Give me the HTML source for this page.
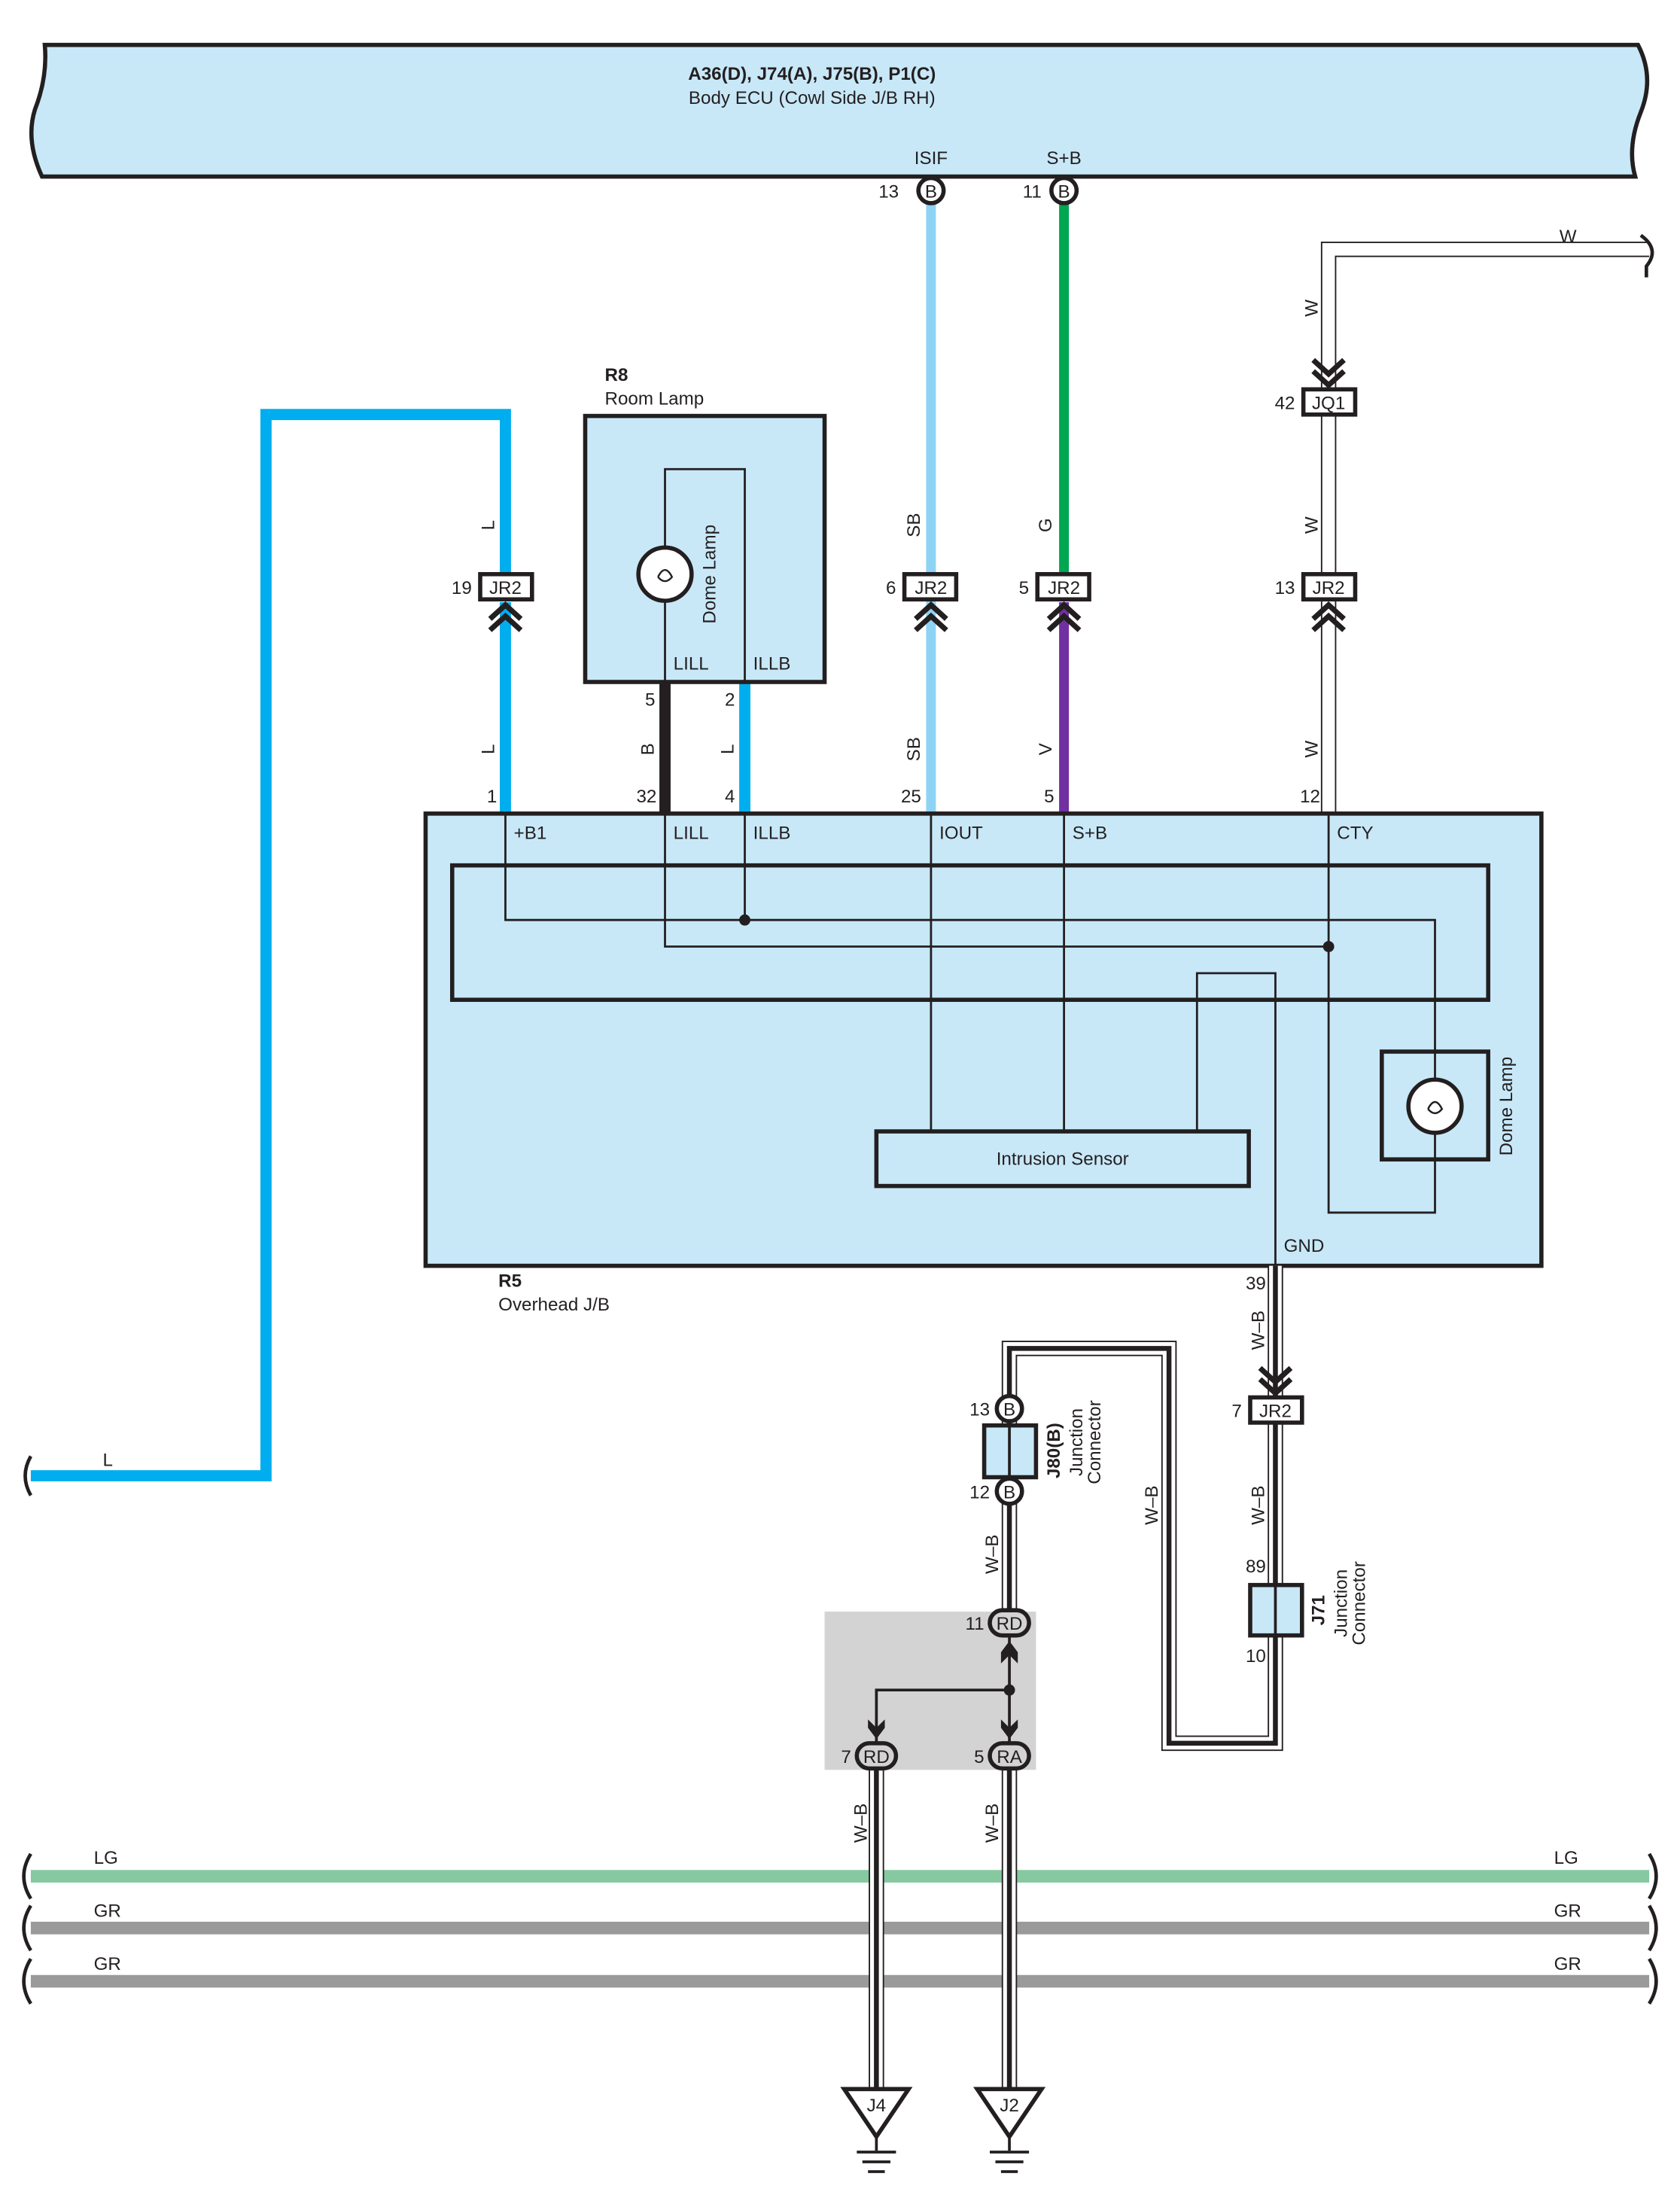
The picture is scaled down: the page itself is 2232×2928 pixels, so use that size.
<!DOCTYPE html>
<html><head><meta charset="utf-8"><style>
html,body{margin:0;padding:0;background:#fff}
svg{display:block}
text{font-family:"Liberation Sans",sans-serif;font-size:13px;fill:#231f20}
</style></head><body>
<svg width="2232" height="2928" viewBox="0 0 1200 1574" xmlns="http://www.w3.org/2000/svg">
<defs>
<g id="chevU"><path d="M-11,11 L0,1 L11,11 M-11,19 L0,9 L11,19" fill="none" stroke="#231f20" stroke-width="3.8"/></g>
<g id="chevD"><path d="M-11,-11 L0,-1 L11,-11 M-11,-19 L0,-9 L11,-19" fill="none" stroke="#231f20" stroke-width="3.8"/></g>
</defs>
<!-- ECU banner -->
<path d="M32,32 L1170,32 Q1182,55 1172,80 Q1162,105 1168,126 L30,126 Q18,100 25,78 Q34,55 32,32 Z" fill="#c8e8f8" stroke="#231f20" stroke-width="3"/>
<text x="580" y="57" text-anchor="middle" font-weight="bold">A36(D), J74(A), J75(B), P1(C)</text>
<text x="580" y="74" text-anchor="middle">Body ECU (Cowl Side J/B RH)</text>
<text x="665" y="117" text-anchor="middle">ISIF</text>
<text x="760" y="117" text-anchor="middle">S+B</text>
<text x="642" y="141" text-anchor="end">13</text>
<text x="744" y="141" text-anchor="end">11</text>

<!-- W wire -->
<path d="M1178,178 L949,178 L949,581" fill="none" stroke="#231f20" stroke-width="11"/>
<path d="M1178,178 L949,178 L949,581" fill="none" stroke="#fff" stroke-width="9"/>
<path d="M1172,168 Q1186,178 1176,190 L1176,198" fill="none" stroke="#231f20" stroke-width="2.5"/>
<text x="1120" y="173" text-anchor="middle">W</text>

<!-- colored wires -->
<path d="M22,1054 L190,1054 L190,296 L361,296 L361,412" fill="none" stroke="#00aeef" stroke-width="8"/>
<path d="M361,430 L361,581" fill="none" stroke="#00aeef" stroke-width="8"/>
<line x1="665" y1="145" x2="665" y2="581" stroke="#8fd3f4" stroke-width="7"/>
<line x1="760" y1="145" x2="760" y2="412" stroke="#00a651" stroke-width="7"/>
<line x1="760" y1="430" x2="760" y2="581" stroke="#7030a0" stroke-width="7"/>
<line x1="475" y1="487" x2="475" y2="581" stroke="#231f20" stroke-width="8"/>
<line x1="532" y1="487" x2="532" y2="581" stroke="#00aeef" stroke-width="8"/>
<path d="M22,1040 Q14,1054 22,1068" fill="none" stroke="#231f20" stroke-width="2.5"/>
<text x="77" y="1047" text-anchor="middle">L</text>

<!-- ECU pins -->
<circle cx="665" cy="136" r="9" fill="#fff" stroke="#231f20" stroke-width="3"/><text x="665" y="141" text-anchor="middle">B</text>
<circle cx="760" cy="136" r="9" fill="#fff" stroke="#231f20" stroke-width="3"/><text x="760" y="141" text-anchor="middle">B</text>

<!-- JQ1 -->
<use href="#chevD" x="949" y="276"/>
<rect x="931" y="278" width="37" height="18" fill="#fff" stroke="#231f20" stroke-width="3"/>
<text x="949" y="292" text-anchor="middle">JQ1</text><text x="925" y="292" text-anchor="end">42</text>

<!-- JR2 row -->
<g>
<rect x="343" y="410" width="37" height="18" fill="#fff" stroke="#231f20" stroke-width="3"/><text x="361" y="424" text-anchor="middle">JR2</text><text x="337" y="424" text-anchor="end">19</text><use href="#chevU" x="361" y="431"/>
<rect x="646" y="410" width="37" height="18" fill="#fff" stroke="#231f20" stroke-width="3"/><text x="665" y="424" text-anchor="middle">JR2</text><text x="640" y="424" text-anchor="end">6</text><use href="#chevU" x="665" y="431"/>
<rect x="741" y="410" width="37" height="18" fill="#fff" stroke="#231f20" stroke-width="3"/><text x="760" y="424" text-anchor="middle">JR2</text><text x="735" y="424" text-anchor="end">5</text><use href="#chevU" x="760" y="431"/>
<rect x="931" y="410" width="37" height="18" fill="#fff" stroke="#231f20" stroke-width="3"/><text x="949" y="424" text-anchor="middle">JR2</text><text x="925" y="424" text-anchor="end">13</text><use href="#chevU" x="949" y="431"/>
</g>

<!-- wire labels rotated -->
<g>
<text transform="translate(353,375) rotate(-90)" text-anchor="middle">L</text>
<text transform="translate(353,535) rotate(-90)" text-anchor="middle">L</text>
<text transform="translate(467,535) rotate(-90)" text-anchor="middle">B</text>
<text transform="translate(524,535) rotate(-90)" text-anchor="middle">L</text>
<text transform="translate(657,375) rotate(-90)" text-anchor="middle">SB</text>
<text transform="translate(657,535) rotate(-90)" text-anchor="middle">SB</text>
<text transform="translate(751,375) rotate(-90)" text-anchor="middle">G</text>
<text transform="translate(751,535) rotate(-90)" text-anchor="middle">V</text>
<text transform="translate(941,220) rotate(-90)" text-anchor="middle">W</text>
<text transform="translate(941,375) rotate(-90)" text-anchor="middle">W</text>
<text transform="translate(941,535) rotate(-90)" text-anchor="middle">W</text>
</g>

<!-- R8 -->
<text x="432" y="272" font-weight="bold">R8</text>
<text x="432" y="289">Room Lamp</text>
<rect x="418" y="297" width="171" height="190" fill="#c8e8f8" stroke="#231f20" stroke-width="3"/>
<path d="M475,487 L475,335 L532,335 L532,487" fill="none" stroke="#231f20" stroke-width="1.5"/>
<circle cx="475" cy="410" r="19" fill="#fff" stroke="#231f20" stroke-width="3"/>
<path d="M470,412 Q475,402 480,412 Q475,418 470,412" fill="none" stroke="#231f20" stroke-width="1.3"/>
<text transform="translate(511,410) rotate(-90)" text-anchor="middle">Dome Lamp</text>
<text x="481" y="478">LILL</text><text x="538" y="478">ILLB</text>
<text x="468" y="504" text-anchor="end">5</text><text x="525" y="504" text-anchor="end">2</text>

<!-- R5 -->
<rect x="304" y="581" width="797" height="323" fill="#c8e8f8" stroke="#231f20" stroke-width="3"/>
<rect x="323" y="618" width="740" height="96" fill="none" stroke="#231f20" stroke-width="3"/>
<g fill="none" stroke="#231f20" stroke-width="1.5">
<path d="M361,581 L361,657 L1025,657 L1025,866 L949,866 L949,581"/>
<path d="M532,581 L532,657"/>
<path d="M475,581 L475,676 L949,676"/>
<path d="M665,581 L665,808 M760,581 L760,808"/>
<path d="M855,808 L855,695 L911,695 L911,904"/>
</g>
<circle cx="532" cy="657" r="4" fill="#231f20"/>
<circle cx="949" cy="676" r="4" fill="#231f20"/>
<rect x="626" y="808" width="266" height="39" fill="#c8e8f8" stroke="#231f20" stroke-width="3"/>
<text x="759" y="832" text-anchor="middle">Intrusion Sensor</text>
<rect x="987" y="751" width="76" height="77" fill="#c8e8f8" stroke="#231f20" stroke-width="3"/>
<line x1="1025" y1="751" x2="1025" y2="828" stroke="#231f20" stroke-width="1.5"/>
<circle cx="1025" cy="790" r="19" fill="#fff" stroke="#231f20" stroke-width="3"/>
<path d="M1020,792 Q1025,782 1030,792 Q1025,798 1020,792" fill="none" stroke="#231f20" stroke-width="1.3"/>
<text transform="translate(1080,790) rotate(-90)" text-anchor="middle">Dome Lamp</text>
<text x="367" y="599">+B1</text><text x="481" y="599">LILL</text><text x="538" y="599">ILLB</text>
<text x="671" y="599">IOUT</text><text x="766" y="599">S+B</text><text x="955" y="599">CTY</text>
<text x="917" y="894">GND</text>
<text x="355" y="573" text-anchor="end">1</text><text x="469" y="573" text-anchor="end">32</text>
<text x="525" y="573" text-anchor="end">4</text><text x="658" y="573" text-anchor="end">25</text>
<text x="753" y="573" text-anchor="end">5</text><text x="943" y="573" text-anchor="end">12</text>
<text x="356" y="919" font-weight="bold">R5</text>
<text x="356" y="936">Overhead J/B</text>

<!-- bottom harness wires -->
<line x1="22" y1="1340" x2="1178" y2="1340" stroke="#86c9a0" stroke-width="9"/>
<line x1="22" y1="1377" x2="1178" y2="1377" stroke="#9a9a9a" stroke-width="9"/>
<line x1="22" y1="1415" x2="1178" y2="1415" stroke="#9a9a9a" stroke-width="9"/>
<g fill="none" stroke="#231f20" stroke-width="2.5">
<path d="M22,1324 Q12,1340 22,1356"/><path d="M22,1361 Q12,1377 22,1393"/><path d="M22,1399 Q12,1415 22,1431"/>
<path d="M1178,1324 Q1188,1340 1178,1356"/><path d="M1178,1361 Q1188,1377 1178,1393"/><path d="M1178,1399 Q1188,1415 1178,1431"/>
</g>
<text x="67" y="1331">LG</text><text x="67" y="1369">GR</text><text x="67" y="1407">GR</text>
<text x="1110" y="1331">LG</text><text x="1110" y="1369">GR</text><text x="1110" y="1407">GR</text>

<!-- gray area -->
<rect x="589" y="1151" width="151" height="113" fill="#d3d3d3"/>

<!-- W-B wires -->
<g fill="none">
<path d="M911,904 L911,1245 L835,1245 L835,963 L721,963 L721,1159" stroke="#231f20" stroke-width="11"/>
<path d="M911,904 L911,1245 L835,1245 L835,963 L721,963 L721,1159" stroke="#fff" stroke-width="9"/>
<path d="M911,904 L911,1245 L835,1245 L835,963 L721,963 L721,1159" stroke="#231f20" stroke-width="3.5"/>
<path d="M626,1263 L626,1492 M721,1263 L721,1492" stroke="#231f20" stroke-width="11"/>
<path d="M626,1263 L626,1492 M721,1263 L721,1492" stroke="#fff" stroke-width="9"/>
<path d="M626,1263 L626,1492 M721,1263 L721,1492" stroke="#231f20" stroke-width="3.5"/>
</g>
<!-- gray area inner -->
<g fill="none" stroke="#231f20" stroke-width="2">
<path d="M721,1168 L721,1245 M721,1207 L626,1207 L626,1245"/>
</g>
<path d="M715,1188 L715,1180 L721,1172 L727,1180 L727,1188 L721,1182 Z" fill="#231f20"/>
<path d="M620,1228 L620,1234 L626,1242 L632,1234 L632,1228 L626,1234 Z" fill="#231f20"/>
<path d="M715,1228 L715,1234 L721,1242 L727,1234 L727,1228 L721,1234 Z" fill="#231f20"/>
<circle cx="721" cy="1207" r="4" fill="#231f20"/>
<rect x="707" y="1150" width="28" height="18" rx="9" fill="#d3d3d3" stroke="#231f20" stroke-width="3"/><text x="721" y="1164" text-anchor="middle">RD</text>
<rect x="612" y="1245" width="28" height="18" rx="9" fill="#d3d3d3" stroke="#231f20" stroke-width="3"/><text x="626" y="1259" text-anchor="middle">RD</text>
<rect x="707" y="1245" width="28" height="18" rx="9" fill="#d3d3d3" stroke="#231f20" stroke-width="3"/><text x="721" y="1259" text-anchor="middle">RA</text>
<text x="703" y="1164" text-anchor="end">11</text><text x="608" y="1259" text-anchor="end">7</text><text x="703" y="1259" text-anchor="end">5</text>

<!-- JR2 lower -->
<use href="#chevD" x="911" y="996"/>
<rect x="893" y="998" width="37" height="18" fill="#fff" stroke="#231f20" stroke-width="3"/>
<text x="911" y="1012" text-anchor="middle">JR2</text><text x="887" y="1012" text-anchor="end">7</text>
<text x="897" y="921" text-anchor="middle">39</text>
<!-- J71 -->
<rect x="893" y="1132" width="37" height="36" fill="#c8e8f8" stroke="#231f20" stroke-width="3"/>
<line x1="911" y1="1132" x2="911" y2="1168" stroke="#231f20" stroke-width="2"/>
<text x="897" y="1123" text-anchor="middle">89</text><text x="897" y="1187" text-anchor="middle">10</text>
<text transform="translate(946,1150) rotate(-90)" text-anchor="middle" font-weight="bold">J71</text>
<text transform="translate(962,1145) rotate(-90)" text-anchor="middle">Junction</text>
<text transform="translate(975,1145) rotate(-90)" text-anchor="middle">Connector</text>
<!-- J80 -->
<rect x="703" y="1018" width="37" height="37" fill="#c8e8f8" stroke="#231f20" stroke-width="3"/>
<line x1="721" y1="1018" x2="721" y2="1055" stroke="#231f20" stroke-width="2"/>
<circle cx="721" cy="1006" r="9" fill="#fff" stroke="#231f20" stroke-width="3"/><text x="721" y="1011" text-anchor="middle">B</text>
<circle cx="721" cy="1065" r="9" fill="#fff" stroke="#231f20" stroke-width="3"/><text x="721" y="1070" text-anchor="middle">B</text>
<text x="707" y="1011" text-anchor="end">13</text><text x="707" y="1070" text-anchor="end">12</text>
<text transform="translate(757,1036) rotate(-90)" text-anchor="middle" font-weight="bold">J80(B)</text>
<text transform="translate(773,1030) rotate(-90)" text-anchor="middle">Junction</text>
<text transform="translate(786,1030) rotate(-90)" text-anchor="middle">Connector</text>
<!-- W-B labels -->
<text transform="translate(903,950) rotate(-90)" text-anchor="middle">W–B</text>
<text transform="translate(903,1075) rotate(-90)" text-anchor="middle">W–B</text>
<text transform="translate(827,1075) rotate(-90)" text-anchor="middle">W–B</text>
<text transform="translate(713,1110) rotate(-90)" text-anchor="middle">W–B</text>
<text transform="translate(619,1302) rotate(-90)" text-anchor="middle">W–B</text>
<text transform="translate(713,1302) rotate(-90)" text-anchor="middle">W–B</text>

<!-- grounds -->
<g fill="#fff" stroke="#231f20" stroke-width="3">
<path d="M603,1492 L649,1492 L626,1526 Z"/>
<path d="M698,1492 L744,1492 L721,1526 Z"/>
</g>
<text x="626" y="1508" text-anchor="middle">J4</text>
<text x="721" y="1508" text-anchor="middle">J2</text>
<g stroke="#231f20" stroke-width="2">
<line x1="626" y1="1526" x2="626" y2="1536"/><line x1="612" y1="1537" x2="640" y2="1537"/><line x1="616" y1="1544" x2="636" y2="1544"/><line x1="620" y1="1551" x2="632" y2="1551"/>
<line x1="721" y1="1526" x2="721" y2="1536"/><line x1="707" y1="1537" x2="735" y2="1537"/><line x1="711" y1="1544" x2="731" y2="1544"/><line x1="715" y1="1551" x2="727" y2="1551"/>
</g>
</svg>
</body></html>
